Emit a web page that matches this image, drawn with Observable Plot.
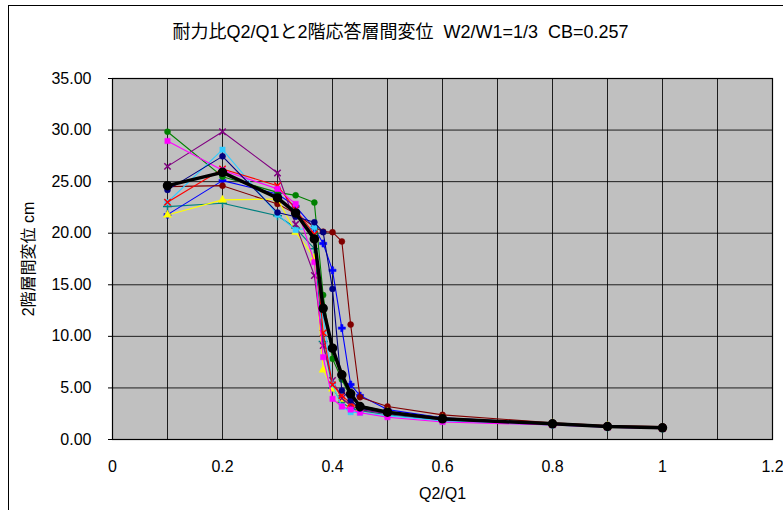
<!DOCTYPE html>
<html><head><meta charset="utf-8">
<script src="https://cdn.jsdelivr.net/npm/d3@7"></script>
<script src="https://cdn.jsdelivr.net/npm/@observablehq/plot@0.6"></script>
<style>
html,body{margin:0;padding:0;background:#fff;width:783px;height:510px;overflow:hidden;}
#wrap{position:relative;width:783px;height:510px;}
#border{position:absolute;left:8px;top:5px;width:800px;height:520px;border:1px solid #000;box-sizing:border-box;}
#title{position:absolute;left:18px;top:0;width:765px;height:60px;line-height:64px;text-align:center;font-family:"Liberation Sans","Noto Sans CJK JP",sans-serif;font-size:18px;color:#000;}
#chart{position:absolute;left:0;top:60px;}
</style></head>
<body><div id="wrap"><div id="border"></div><div id="title">耐力比Q2/Q1と2階応答層間変位&nbsp; W2/W1=1/3&nbsp; CB=0.257</div><div id="chart"></div></div>
<script>
const xs = [0.1,0.2,0.3,0.333,0.367,0.383,0.4,0.417,0.433,0.45,0.5,0.6,0.8,0.9,1.0];
const navy    = [24.2,27.45,22.0,21.6,21.06,20.1,14.6,4.75,3.8,3.0,2.6,1.95,1.5,1.25,1.12];
const magenta = [28.94,26.1,24.3,22.84,17.2,7.98,3.94,3.2,2.9,2.6,2.16,1.7,1.4,1.2,1.05];
const yellow  = [21.77,23.23,23.32,20.1,17.6,6.75,4.91,3.9,3.3,3.0,2.7,2.05,1.55,1.3,1.15];
const cyan    = [23.0,28.1,21.8,20.3,20.6,12.0,5.33,3.2,2.65,2.6,2.3,1.8,1.4,1.2,1.08];
const purple  = [26.48,29.84,25.84,20.86,15.9,9.1,5.72,4.0,3.3,2.9,2.5,1.9,1.45,1.22,1.1];
const darkred = [24.52,24.61,22.84,21.9,20.6,20.15,20.1,19.2,11.14,4.1,3.2,2.39,1.62,1.36,1.25];
const teal    = [22.58,22.9,21.7,20.5,18.5,9.5,5.0,3.6,3.0,2.8,2.4,1.85,1.45,1.22,1.1];
const blue    = [21.8,25.1,23.8,22.6,20.5,19.0,16.4,10.8,5.33,4.26,2.9,2.1,1.55,1.3,1.15];
const green   = [29.84,25.48,23.96,23.67,22.97,14.0,7.82,5.81,4.1,3.3,2.7,2.0,1.5,1.25,1.12];
const red     = [23.0,26.23,24.61,22.3,19.9,10.34,5.3,4.26,3.5,3.1,2.65,2.0,1.5,1.26,1.13];
const average = [24.61,25.9,23.42,21.97,19.45,12.72,8.85,6.27,4.43,3.2,2.65,2.0,1.52,1.26,1.13];

const xTicks = [0,0.2,0.4,0.6,0.8,1,1.2];
const yTicks = [0,5,10,15,20,25,30,35];
const xGrid = [0,0.1,0.2,0.3,0.4,0.5,0.6,0.7,0.8,0.9,1.0,1.1,1.2];

const seriesList = [
  {name:"teal", values:teal, color:"#008080", symbol:"plus", filled:false},
  {name:"blue", values:blue, color:"#0000FF", symbol:"cross", filled:true},
  {name:"darkred", values:darkred, color:"#800000", symbol:"circle", filled:true},
  {name:"green", values:green, color:"#008000", symbol:"circle", filled:true},
  {name:"yellow", values:yellow, color:"#FFFF00", symbol:"triangle", filled:true},
  {name:"purple", values:purple, color:"#800080", symbol:"times", filled:false},
  {name:"cyan", values:cyan, color:"#33CCFF", symbol:"square", filled:true},
  {name:"red", values:red, color:"#FF0000", symbol:"times", filled:false},
  {name:"magenta", values:magenta, color:"#FF00FF", symbol:"square", filled:true},
  {name:"navy", values:navy, color:"#000080", symbol:"circle", filled:true}
];

const marks = [
  Plot.frame({fill:"#C0C0C0"}),
  Plot.gridX(xGrid, {stroke:"#000", strokeOpacity:0.85, strokeWidth:1}),
  Plot.gridY(yTicks, {stroke:"#000", strokeOpacity:0.85, strokeWidth:1})
];
for (const s of seriesList) {
  const rows = xs.map((x,i)=>({x, y:s.values[i]}));
  marks.push(Plot.line(rows, {x:"x", y:"y", stroke:s.color, strokeWidth:1.1}));
  marks.push(Plot.dot(rows, {x:"x", y:"y", symbol:()=>s.symbol, r:3,
    fill: s.filled ? s.color : "none", stroke:s.color, strokeWidth: s.filled ? 0.5 : 1.5}));
}
const avgRows = xs.map((x,i)=>({x, y:average[i]}));
marks.push(Plot.line(avgRows, {x:"x", y:"y", stroke:"#000", strokeWidth:3.5}));
marks.push(Plot.dot(avgRows, {x:"x", y:"y", r:4, fill:"#000", stroke:"#000"}));
marks.push(Plot.frame({stroke:"#000", strokeWidth:1.2}));
marks.push(Plot.axisX(xTicks, {tickSize:0, tickPadding:21, tickFormat:d=>String(d), label:null, fontSize:16}));
marks.push(Plot.axisY(yTicks, {tickSize:4, tickPadding:17, tickFormat:d=>d.toFixed(2), label:null, fontSize:16}));
marks.push(Plot.text(["2階層間変位 cm"], {frameAnchor:"left", dx:-84, rotate:-90, fontSize:16, textAnchor:"middle", lineAnchor:"middle", fill:"#000"}));
marks.push(Plot.text(["Q2/Q1"], {frameAnchor:"bottom", dy:54, fontSize:16, textAnchor:"middle", lineAnchor:"middle", fill:"#000"}));

const chart = Plot.plot({
  width:783, height:450,
  marginTop:18, marginBottom:71, marginLeft:112, marginRight:11,
  style:{fontFamily:"'Liberation Sans','Noto Sans CJK JP',sans-serif", fontSize:"16px", color:"#000", background:"transparent", overflow:"visible"},
  x:{domain:[0,1.2], axis:null},
  y:{domain:[0,35], axis:null},
  symbol:{type:"identity"},
  marks
});
document.getElementById("chart").appendChild(chart);
</script>
</body></html>
